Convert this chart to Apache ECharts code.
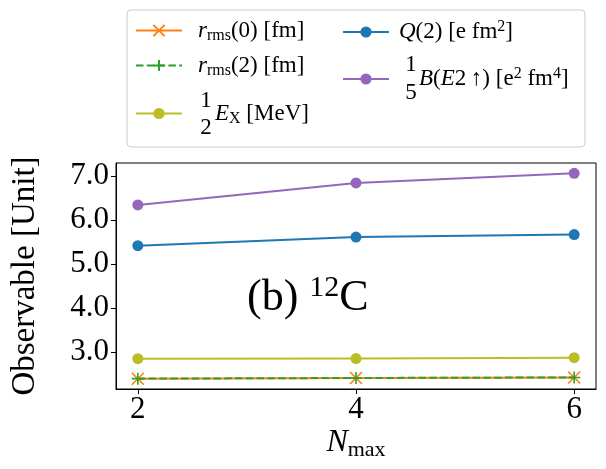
<!DOCTYPE html>
<html>
<head>
<meta charset="utf-8">
<script src="https://cdn.jsdelivr.net/npm/echarts@6/dist/echarts.min.js"></script>
<style>html,body{margin:0;padding:0;background:#fff}#main{width:606px;height:469px}</style>
</head>
<body>
<div id="main"></div>
<script>
var myChart = echarts.init(document.getElementById('main'));

// data
var nmax = [2, 4, 6];
var rms0 = [2.393, 2.41, 2.42];
var rms2 = [2.395, 2.41, 2.422];
var halfEx = [2.848, 2.852, 2.87];
var q2 = [5.416, 5.61, 5.667];
var fifthBE2 = [6.34, 6.84, 7.06];
var xTicks = [2, 4, 6];
var yTicks = [3, 4, 5, 6, 7];

var serif = 'Liberation Serif';

function pairs(v) {
  return nmax.map(function (n, i) { return [n, v[i]]; });
}

// matplotlib-like 5% margins
function pad(lo, hi) {
  var d = (hi - lo) * 0.05;
  return [lo - d, hi + d];
}
var allY = [].concat(rms0, rms2, halfEx, q2, fifthBE2);
var yr = pad(Math.min.apply(null, allY), Math.max.apply(null, allY));
var xr = pad(nmax[0], nmax[nmax.length - 1]);

var rich = {
  t: {fontFamily: serif, fontSize: 23, lineHeight: 26, color: '#000'},
  i: {fontFamily: serif, fontSize: 23, fontStyle: 'italic', lineHeight: 26, color: '#000'},
  s: {fontFamily: serif, fontSize: 16, lineHeight: 12, verticalAlign: 'bottom', color: '#000'},
  u: {fontFamily: serif, fontSize: 16, lineHeight: 12, verticalAlign: 'top', color: '#000'},
  sp: {width: 11, lineHeight: 26},
  sp2: {width: 5, lineHeight: 26},
  fr: {width: 28, lineHeight: 26},
  fr2: {width: 25, lineHeight: 26}
};

var labels = {
  rms0: '{sp| }{i|r}{s|rms}{t|(0) [fm]}',
  rms2: '{sp| }{i|r}{s|rms}{t|(2) [fm]}',
  ex: '{fr| }{i|E}{s|X}{t| [MeV]}',
  q2: '{sp2| }{i|Q}{t|(2) [e fm}{u|2}{t|]}',
  be2: '{fr2| }{i|B}{t|(}{i|E}{t|2\u2009\u2191) [e}{u|2}{t| fm}{u|4}{t|]}'
};

function legendAt(name, left, cy) {
  return {
    data: [name], left: left, top: cy - 13, padding: 0,
    itemWidth: 46, itemHeight: 14, selectedMode: false,
    formatter: function (n) { return labels[n]; },
    textStyle: {rich: rich}
  };
}

var X_SYM = 'path://M0,0L10,10M10,0L0,10';
var PLUS_SYM = 'path://M5,0L5,10M0,5L10,5';
var digit = '23px ' + serif;

var option = {
  animation: false,
  backgroundColor: '#fff',
  grid: {left: 116, right: 10, top: 163, bottom: 80, show: true, borderColor: '#000', borderWidth: 1},
  legend: [
    legendAt('rms0', 135, 32),
    legendAt('rms2', 135, 67),
    legendAt('ex', 135, 115),
    legendAt('q2', 342, 32),
    legendAt('be2', 342, 79)
  ],
  graphic: [
    {type: 'rect', z: 0, shape: {x: 127, y: 10, width: 458, height: 137, r: 4},
      style: {fill: '#fff', stroke: '#cccccc', lineWidth: 1}},
    {type: 'text', z: 10, style: {text: '1', x: 206, y: 101, font: digit, fill: '#000', align: 'center', verticalAlign: 'middle'}},
    {type: 'text', z: 10, style: {text: '2', x: 206, y: 128, font: digit, fill: '#000', align: 'center', verticalAlign: 'middle'}},
    {type: 'text', z: 10, style: {text: '1', x: 411, y: 65, font: digit, fill: '#000', align: 'center', verticalAlign: 'middle'}},
    {type: 'text', z: 10, style: {text: '5', x: 411, y: 93, font: digit, fill: '#000', align: 'center', verticalAlign: 'middle'}},
    {type: 'text', z: 10, style: {
      text: '{t|(b) }{u|12}{t|C}', x: 247, y: 298, verticalAlign: 'middle',
      rich: {
        t: {fontFamily: serif, fontSize: 44, lineHeight: 50, fill: '#000'},
        u: {fontFamily: serif, fontSize: 30, lineHeight: 32, verticalAlign: 'top', fill: '#000'}
      }
    }}
  ],
  xAxis: {
    type: 'value', min: xr[0], max: xr[1],
    name: '{i|N}{s|max}', nameLocation: 'middle', nameGap: 36,
    nameTextStyle: {rich: {
      i: {fontFamily: serif, fontSize: 32, fontStyle: 'italic', lineHeight: 36, color: '#000'},
      s: {fontFamily: serif, fontSize: 22, lineHeight: 20, verticalAlign: 'bottom', color: '#000'}
    }},
    axisLine: {lineStyle: {color: '#000', width: 1}},
    axisTick: {length: 5, lineStyle: {color: '#000'}, customValues: xTicks},
    axisLabel: {customValues: xTicks, fontFamily: serif, fontSize: 31, color: '#000', margin: 5},
    splitLine: {show: false}
  },
  yAxis: {
    type: 'value', min: yr[0], max: yr[1],
    name: 'Observable [Unit]', nameLocation: 'middle', nameGap: 74,
    nameTextStyle: {fontFamily: serif, fontSize: 33, color: '#000'},
    axisLine: {show: true, lineStyle: {color: '#000', width: 1}},
    axisTick: {show: true, length: 5, lineStyle: {color: '#000'}, customValues: yTicks},
    axisLabel: {customValues: yTicks, fontFamily: serif, fontSize: 31, color: '#000', margin: 7,
      formatter: function (v) { return v.toFixed(1); }},
    splitLine: {show: false}
  },
  series: [
    {name: 'rms0', type: 'line', data: pairs(rms0), symbol: X_SYM, symbolSize: 12,
      itemStyle: {color: '#ff7f0e', borderColor: '#ff7f0e', borderWidth: 1.6},
      lineStyle: {color: '#ff7f0e', width: 2}},
    {name: 'rms2', type: 'line', data: pairs(rms2), symbol: PLUS_SYM, symbolSize: 12,
      itemStyle: {color: '#2ca02c', borderColor: '#2ca02c', borderWidth: 1.6},
      lineStyle: {color: '#2ca02c', width: 2, type: [7.5, 3.3]}},
    {name: 'ex', type: 'line', data: pairs(halfEx), symbol: 'circle', symbolSize: 11,
      itemStyle: {color: '#bcbd22'}, lineStyle: {color: '#bcbd22', width: 2}},
    {name: 'q2', type: 'line', data: pairs(q2), symbol: 'circle', symbolSize: 11,
      itemStyle: {color: '#1f77b4'}, lineStyle: {color: '#1f77b4', width: 2}},
    {name: 'be2', type: 'line', data: pairs(fifthBE2), symbol: 'circle', symbolSize: 11,
      itemStyle: {color: '#9467bd'}, lineStyle: {color: '#9467bd', width: 2}}
  ]
};

myChart.setOption(option);
</script>
</body>
</html>
